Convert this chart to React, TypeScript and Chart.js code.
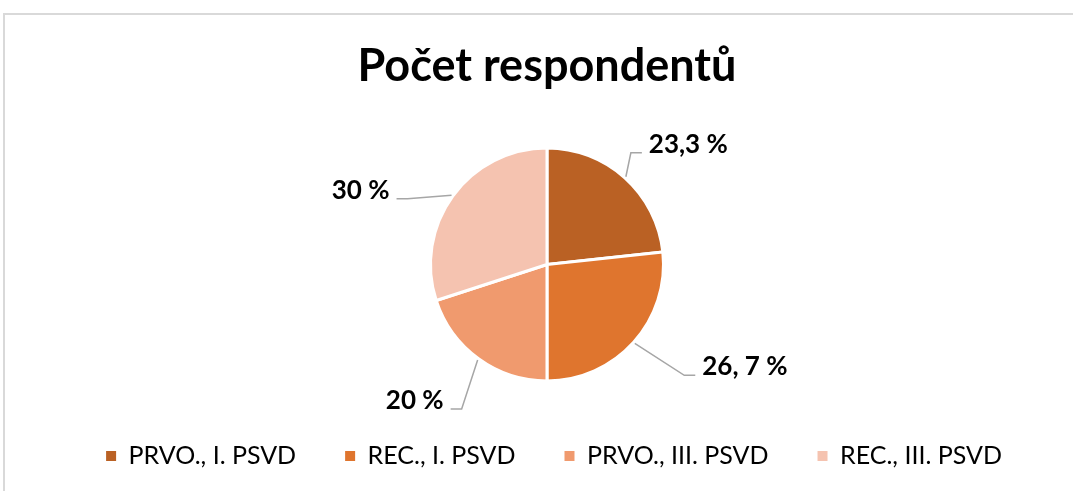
import React, { useEffect, useRef } from "react";
import { Chart, registerables } from "chart.js";

Chart.register(...registerables);

const categories = ["PRVO., I. PSVD", "REC., I. PSVD", "PRVO., III. PSVD", "REC., III. PSVD"];
const values = [23.3, 26.7, 20, 30];
const valueLabels = ["23,3 %", "26, 7 %", "20 %", "30 %"];
const colors = ["#BA6124", "#DF752E", "#F09A6E", "#F5C3B0"];

// leader-line bend offsets from each slice's outer edge (px)
const leaderOffsets = [
  [5, -24],
  [49.5, 32],
  [-16, 49],
  [-44, 3.5],
];

const LEGEND_PAD = 49;
const LEGEND_FONT = 25;
const LEGEND_CENTER_Y = 456;
const LEGEND_SHIFT_X = 7;

const labelPlugin = {
  id: "outsideLabels",
  afterLayout(chart: any) {
    const lg = chart.legend;
    if (lg) {
      const h = lg.bottom - lg.top;
      lg.top = LEGEND_CENTER_Y - LEGEND_PAD - LEGEND_FONT / 2;
      lg.bottom = lg.top + h;
      lg.left += LEGEND_SHIFT_X;
      lg.right += LEGEND_SHIFT_X;
    }
  },
  afterDatasetsDraw(chart: any) {
    const ctx = chart.ctx;
    const meta = chart.getDatasetMeta(0);
    ctx.save();
    meta.data.forEach((arc: any, i: number) => {
      const p = arc.getProps(["x", "y", "startAngle", "endAngle", "outerRadius"], true);
      const mid = (p.startAngle + p.endAngle) / 2;
      const r = p.outerRadius + 1.5;
      const ex = p.x + Math.cos(mid) * r;
      const ey = p.y + Math.sin(mid) * r;
      const [dx, dy] = leaderOffsets[i];
      const bx = ex + dx;
      const by = ey + dy;
      const sign = dx >= 0 ? 1 : -1;
      const endX = bx + sign * 11;
      ctx.beginPath();
      ctx.moveTo(ex, ey);
      ctx.lineTo(bx, by);
      ctx.lineTo(endX, by);
      ctx.strokeStyle = "#A6A6A6";
      ctx.lineWidth = 1.5;
      ctx.stroke();
      ctx.font = "bold 26px Lato";
      ctx.fillStyle = "#000000";
      ctx.textBaseline = "alphabetic";
      ctx.textAlign = sign > 0 ? "left" : "right";
      ctx.fillText(valueLabels[i], endX + sign * 7, by);
    });
    ctx.restore();
  },
};

export default function App() {
  const canvasRef = useRef<HTMLCanvasElement | null>(null);

  useEffect(() => {
    if (!canvasRef.current) return;
    const chart = new Chart(canvasRef.current, {
      type: "pie",
      data: {
        labels: categories,
        datasets: [
          {
            data: values,
            backgroundColor: colors,
            borderColor: "#FFFFFF",
            borderWidth: 3,
            radius: 116.5,
          } as any,
        ],
      },
      options: {
        animation: false,
        responsive: false,
        maintainAspectRatio: false,
        devicePixelRatio: 1,
        layout: { padding: { left: 21, right: 0, top: 0, bottom: 0 } },
        plugins: {
          title: {
            display: true,
            text: "Počet respondentů",
            color: "#000000",
            font: { family: "Lato", size: 45, weight: "bold" },
            padding: { top: 39, bottom: 29 },
          },
          legend: {
            display: true,
            position: "bottom",
            labels: {
              boxWidth: 10,
              boxHeight: 10,
              padding: LEGEND_PAD,
              color: "#000000",
              font: { family: "Lato", size: LEGEND_FONT },
              generateLabels: (c: any) => {
                const base = (Chart as any).overrides.pie.plugins.legend.labels.generateLabels(c);
                return base.map((l: any) => ({ ...l, lineWidth: 0, strokeStyle: "rgba(0,0,0,0)" }));
              },
            },
          },
          tooltip: { enabled: false },
        },
      },
      plugins: [labelPlugin],
    });
    return () => chart.destroy();
  }, []);

  return (
    <div style={{ position: "fixed", left: 0, top: 0, width: "100vw", height: "100vh", background: "#fff", overflow: "hidden" }}>
      <div
        style={{
          position: "absolute",
          left: 3,
          top: 13,
          width: 1200,
          height: 600,
          borderTop: "2px solid #D9D9D9",
          borderLeft: "2px solid #D9D9D9",
        }}
      />
      <canvas
        ref={canvasRef}
        width={1073}
        height={491}
        style={{ position: "absolute", left: 0, top: 0, width: 1073, height: 491, display: "block" }}
      />
    </div>
  );
}
